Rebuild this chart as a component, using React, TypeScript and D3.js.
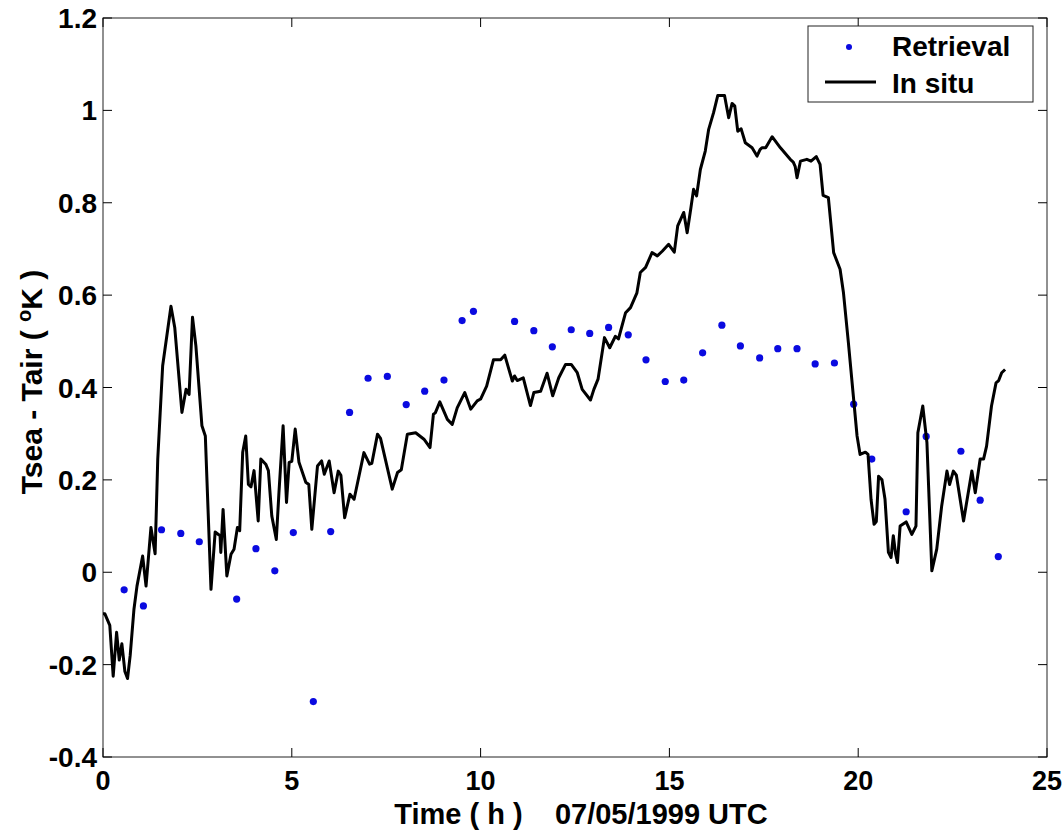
import React, { useRef, useEffect } from 'react';
import * as d3 from 'd3';

// In situ record (hours, K)
const inSituTime = [
  0.0, 0.05, 0.18, 0.27, 0.36, 0.43, 0.5, 0.58, 0.65, 0.72, 0.82, 0.9, 1.05, 1.14, 1.27, 1.38,
  1.45, 1.58, 1.8, 1.9, 2.09, 2.2, 2.28, 2.37, 2.46, 2.62, 2.71, 2.86, 2.97, 3.1, 3.12, 3.18,
  3.28, 3.39, 3.47, 3.56, 3.62, 3.7, 3.78, 3.85, 3.92, 4.0, 4.11, 4.18, 4.31, 4.38, 4.47, 4.59,
  4.66, 4.77, 4.86, 4.93, 5.0, 5.09, 5.19, 5.37, 5.45, 5.53, 5.68, 5.79, 5.86, 5.99, 6.12, 6.23,
  6.3, 6.4, 6.54, 6.65, 6.91, 7.06, 7.12, 7.27, 7.35, 7.66, 7.8, 7.9, 8.06, 8.28, 8.5, 8.66,
  8.75, 8.8, 8.92, 9.12, 9.25, 9.38, 9.58, 9.74, 9.91, 10.0, 10.16, 10.34, 10.53, 10.64, 10.84, 10.9,
  10.97, 11.13, 11.32, 11.41, 11.59, 11.76, 11.91, 12.07, 12.25, 12.4, 12.56, 12.69, 12.91, 13.0, 13.11, 13.28,
  13.42, 13.57, 13.65, 13.84, 13.97, 14.14, 14.23, 14.37, 14.54, 14.68, 14.81, 14.98, 15.13, 15.22, 15.38, 15.47,
  15.57, 15.64, 15.72, 15.82, 15.95, 16.04, 16.17, 16.28, 16.46, 16.57, 16.66, 16.73, 16.81, 16.9, 17.01, 17.19,
  17.32, 17.4, 17.45, 17.55, 17.72, 17.94, 18.2, 18.28, 18.33, 18.38, 18.47, 18.64, 18.75, 18.89, 18.99, 19.07,
  19.21, 19.35, 19.52, 19.61, 19.74, 19.88, 19.97, 20.05, 20.19, 20.26, 20.34, 20.42, 20.48, 20.54, 20.63, 20.71,
  20.8, 20.87, 20.93, 20.99, 21.04, 21.11, 21.27, 21.42, 21.53, 21.58, 21.71, 21.82, 21.95, 22.08, 22.21, 22.35,
  22.42, 22.52, 22.6, 22.79, 23.01, 23.1, 23.23, 23.32, 23.4, 23.53, 23.65, 23.72, 23.8, 23.89
];
const inSituValue = [
  -0.09, -0.09, -0.115, -0.225, -0.13, -0.19, -0.155, -0.215, -0.23, -0.18, -0.08, -0.03, 0.035, -0.03, 0.097, 0.04,
  0.245, 0.447, 0.576, 0.53, 0.346, 0.396, 0.385, 0.552, 0.49, 0.317, 0.295, -0.037, 0.087, 0.079, 0.043, 0.136,
  -0.008, 0.039, 0.05, 0.097, 0.09, 0.26, 0.295, 0.19, 0.185, 0.22, 0.111, 0.245, 0.234, 0.22, 0.122, 0.071,
  0.173, 0.317, 0.151, 0.238, 0.24, 0.31, 0.238, 0.195, 0.19, 0.093, 0.23, 0.241, 0.212, 0.241, 0.172, 0.219,
  0.21, 0.118, 0.169, 0.158, 0.259, 0.234, 0.236, 0.299, 0.29, 0.18, 0.216, 0.222, 0.299, 0.302, 0.288, 0.27,
  0.342, 0.345, 0.369, 0.331, 0.32, 0.356, 0.389, 0.353, 0.371, 0.375, 0.403, 0.46, 0.46, 0.47, 0.414, 0.425,
  0.415, 0.421, 0.361, 0.389, 0.392, 0.431, 0.382, 0.421, 0.45, 0.45, 0.432, 0.396, 0.373, 0.396, 0.418, 0.508,
  0.486, 0.511, 0.505, 0.562, 0.573, 0.605, 0.649, 0.66, 0.692, 0.685, 0.695, 0.71, 0.693, 0.75, 0.779, 0.735,
  0.789, 0.829, 0.815, 0.872, 0.912, 0.959, 0.995, 1.032, 1.032, 0.984, 1.015, 1.01, 0.955, 0.96, 0.93, 0.919,
  0.901, 0.915, 0.919, 0.919, 0.943, 0.919, 0.894, 0.888, 0.879, 0.854, 0.89, 0.894, 0.89, 0.9, 0.883, 0.816,
  0.811, 0.692, 0.656, 0.605, 0.497, 0.374, 0.295, 0.255, 0.26, 0.255, 0.158, 0.104, 0.11, 0.208, 0.2, 0.158,
  0.043, 0.032, 0.079, 0.04, 0.021, 0.1, 0.109, 0.082, 0.1, 0.302, 0.36, 0.281, 0.003, 0.05, 0.143, 0.219,
  0.19, 0.219, 0.21, 0.111, 0.219, 0.172, 0.245, 0.245, 0.273, 0.36, 0.41, 0.415, 0.432, 0.439
];

// Retrieval points
const retrievalTime = [
  0.56, 1.07, 1.55, 2.06, 2.55, 3.54, 4.05, 4.55, 5.04, 5.57, 6.03, 6.53, 7.02, 7.53, 8.03, 8.52,
  9.03, 9.51, 9.81, 10.9, 11.41, 11.9, 12.4, 12.89, 13.39, 13.91, 14.38, 14.89, 15.38, 15.88, 16.39, 16.88,
  17.39, 17.87, 18.38, 18.86, 19.37, 19.88, 20.36, 21.27, 21.8, 22.72, 23.23, 23.71
];
const retrievalValue = [
  -0.038, -0.073, 0.092, 0.084, 0.066, -0.058, 0.051, 0.003, 0.086, -0.28, 0.088, 0.346, 0.42, 0.424, 0.363, 0.392,
  0.416, 0.545, 0.565, 0.543, 0.523, 0.488, 0.525, 0.517, 0.53, 0.514, 0.46, 0.413, 0.416, 0.475, 0.535, 0.49,
  0.464, 0.484, 0.484, 0.451, 0.453, 0.364, 0.245, 0.131, 0.294, 0.262, 0.156, 0.034
];

const xTicks = [0, 5, 10, 15, 20, 25];
const yTicks = [-0.4, -0.2, 0, 0.2, 0.4, 0.6, 0.8, 1, 1.2];
const legendLabels = ['Retrieval', 'In situ'];

const FONT = '"Liberation Sans", Arial, Helvetica, sans-serif';

export default function App() {
  const svgRef = useRef<SVGSVGElement>(null);

  useEffect(() => {
    const svg = d3.select(svgRef.current);
    svg.selectAll('*').remove();

    const left = 103, right = 1047, top = 18, bottom = 757;

    const x = d3.scaleLinear().domain([0, 25]).range([left, right]);
    const y = d3.scaleLinear().domain([-0.4, 1.2]).range([bottom, top]);

    svg.append('rect').attr('width', 1063).attr('height', 831).attr('fill', '#fff');

    // frame
    svg.append('rect')
      .attr('x', left).attr('y', top)
      .attr('width', right - left).attr('height', bottom - top)
      .attr('fill', 'none').attr('stroke', '#222').attr('stroke-width', 1);

    // inward ticks on all four sides
    const tl = 9;
    const g = svg.append('g').attr('stroke', '#000').attr('stroke-width', 1);
    xTicks.forEach(t => {
      g.append('line').attr('x1', x(t)).attr('x2', x(t)).attr('y1', bottom).attr('y2', bottom - tl);
      g.append('line').attr('x1', x(t)).attr('x2', x(t)).attr('y1', top).attr('y2', top + tl);
    });
    yTicks.forEach(t => {
      g.append('line').attr('x1', left).attr('x2', left + tl).attr('y1', y(t)).attr('y2', y(t));
      g.append('line').attr('x1', right).attr('x2', right - tl).attr('y1', y(t)).attr('y2', y(t));
    });

    // tick labels
    svg.append('g').selectAll('text').data(xTicks).enter().append('text')
      .attr('x', d => x(d)).attr('y', 790)
      .attr('text-anchor', 'middle')
      .style('font-family', FONT).style('font-weight', 'bold').style('font-size', '27px')
      .text(d => String(d));

    svg.append('g').selectAll('text').data(yTicks).enter().append('text')
      .attr('x', left - 6).attr('y', d => y(d) + 10)
      .attr('text-anchor', 'end')
      .style('font-family', FONT).style('font-weight', 'bold').style('font-size', '28px')
      .text(d => String(+d.toFixed(1)));

    // axis labels
    svg.append('text')
      .attr('x', 581).attr('y', 824)
      .attr('text-anchor', 'middle')
      .attr('xml:space', 'preserve')
      .style('white-space', 'pre')
      .style('font-family', FONT).style('font-weight', 'bold').style('font-size', '29px')
      .text('Time ( h )    07/05/1999 UTC');

    const yl = svg.append('text')
      .attr('transform', 'translate(42,382) rotate(-90)')
      .attr('text-anchor', 'middle')
      .attr('xml:space', 'preserve')
      .style('white-space', 'pre')
      .style('font-family', FONT).style('font-weight', 'bold').style('font-size', '30px');
    yl.append('tspan').text('Tsea - Tair ( ');
    yl.append('tspan').attr('dy', -11).style('font-size', '20px').text('o');
    yl.append('tspan').attr('dy', 11).text('K )');

    // retrieval dots
    svg.append('g').selectAll('circle')
      .data(retrievalTime.map((t, i) => [t, retrievalValue[i]]))
      .enter().append('circle')
      .attr('cx', d => x(d[0])).attr('cy', d => y(d[1]))
      .attr('r', 3.6).attr('fill', '#0a0ae0');

    // in situ line
    const line = d3.line<number>()
      .x((d, i) => x(inSituTime[i]))
      .y(d => y(d));
    svg.append('path')
      .attr('d', line(inSituValue))
      .attr('fill', 'none').attr('stroke', '#000')
      .attr('stroke-width', 3).attr('stroke-linejoin', 'round');

    // legend
    const lg = svg.append('g');
    lg.append('rect')
      .attr('x', 808).attr('y', 26).attr('width', 225).attr('height', 76)
      .attr('fill', '#fff').attr('stroke', '#222').attr('stroke-width', 1);
    lg.append('circle').attr('cx', 849).attr('cy', 47).attr('r', 3).attr('fill', '#0a0ae0');
    lg.append('line').attr('x1', 825).attr('x2', 876).attr('y1', 82).attr('y2', 82)
      .attr('stroke', '#000').attr('stroke-width', 3);
    lg.selectAll('text.lab').data(legendLabels).enter().append('text')
      .attr('x', 892).attr('y', (d, i) => 56 + i * 37)
      .style('font-family', FONT).style('font-weight', 'bold').style('font-size', '28px')
      .text(d => d);
  }, []);

  return (
    <svg ref={svgRef} width={1063} height={831}
      style={{ position: 'absolute', left: 0, top: 0, display: 'block' }} />
  );
}
